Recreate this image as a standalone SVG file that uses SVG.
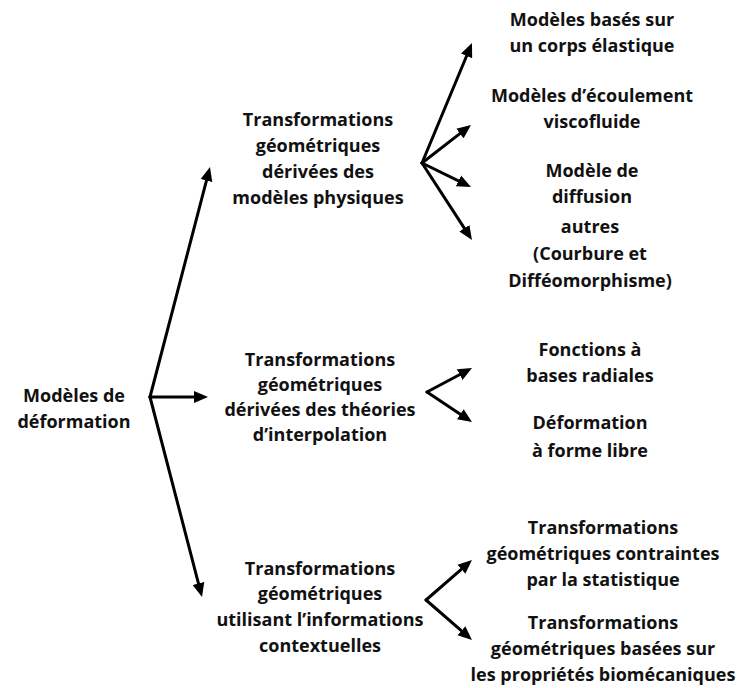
<svg xmlns="http://www.w3.org/2000/svg" width="744" height="688" viewBox="0 0 744 688">
<style>
  .t { font-family: "Open Sans", "Liberation Sans", sans-serif; font-weight: 700; font-size: 18px; fill: #111; text-anchor: middle; }
  .c { stroke: #000; stroke-width: 3; fill: none; stroke-linecap: round; marker-end: url(#ah); }
</style>
<defs>
  <marker id="ah" markerUnits="userSpaceOnUse" markerWidth="15" markerHeight="13" refX="4" refY="6" orient="auto" viewBox="0 0 15 12">
    <path d="M0,0 L14,6 L0,12 z" fill="#000"/>
  </marker>
</defs>
<rect width="744" height="688" fill="#fff"/>
<g id="connectors">
  <line class="c" x1="150" y1="397" x2="207.48" y2="176.68"/>
  <line class="c" x1="150" y1="397" x2="198" y2="397"/>
  <line class="c" x1="150" y1="397" x2="199.48" y2="587.32"/>
  <line class="c" x1="422" y1="163" x2="468.15" y2="52.23"/>
  <line class="c" x1="422" y1="163" x2="463.1" y2="131.13"/>
  <line class="c" x1="422" y1="163" x2="462.02" y2="182.6"/>
  <line class="c" x1="422" y1="163" x2="466.55" y2="231.61"/>
  <line class="c" x1="427" y1="392" x2="463.18" y2="372.71"/>
  <line class="c" x1="427" y1="392" x2="463.68" y2="416.45"/>
  <line class="c" x1="426" y1="600" x2="464.45" y2="566.56"/>
  <line class="c" x1="426" y1="600" x2="464.45" y2="633.44"/>
</g>
<g id="root">
  <text class="t" x="74" y="402">Modèles de</text>
  <text class="t" x="74" y="428">déformation</text>
</g>
<g id="phys">
  <text class="t" x="318" y="126">Transformations</text>
  <text class="t" x="318" y="152">géométriques</text>
  <text class="t" x="318" y="178">dérivées des</text>
  <text class="t" x="318" y="204">modèles physiques</text>
</g>
<g id="interp">
  <text class="t" x="320" y="366">Transformations</text>
  <text class="t" x="320" y="391">géométriques</text>
  <text class="t" x="320" y="416">dérivées des théories</text>
  <text class="t" x="320" y="441">d’interpolation</text>
</g>
<g id="context">
  <text class="t" x="320" y="575">Transformations</text>
  <text class="t" x="320" y="600">géométriques</text>
  <text class="t" x="320" y="626">utilisant l’informations</text>
  <text class="t" x="320" y="652">contextuelles</text>
</g>
<g id="elastique">
  <text class="t" x="592" y="26">Modèles basés sur</text>
  <text class="t" x="592" y="52">un corps élastique</text>
</g>
<g id="viscofluide">
  <text class="t" x="592" y="102">Modèles d’écoulement</text>
  <text class="t" x="592" y="128">viscofluide</text>
</g>
<g id="diffusion">
  <text class="t" x="592" y="177">Modèle de</text>
  <text class="t" x="592" y="203">diffusion</text>
</g>
<g id="autres">
  <text class="t" x="590" y="233">autres</text>
  <text class="t" x="590" y="260">(Courbure et</text>
  <text class="t" x="590" y="287">Difféomorphisme)</text>
</g>
<g id="rbf">
  <text class="t" x="590" y="356">Fonctions à</text>
  <text class="t" x="590" y="382">bases radiales</text>
</g>
<g id="ffd">
  <text class="t" x="590" y="429">Déformation</text>
  <text class="t" x="590" y="457">à forme libre</text>
</g>
<g id="stat">
  <text class="t" x="603" y="534">Transformations</text>
  <text class="t" x="603" y="560">géométriques contraintes</text>
  <text class="t" x="603" y="586">par la statistique</text>
</g>
<g id="biomeca">
  <text class="t" x="603" y="629">Transformations</text>
  <text class="t" x="603" y="655">géométriques basées sur</text>
  <text class="t" x="603" y="681">les propriétés biomécaniques</text>
</g>
</svg>
